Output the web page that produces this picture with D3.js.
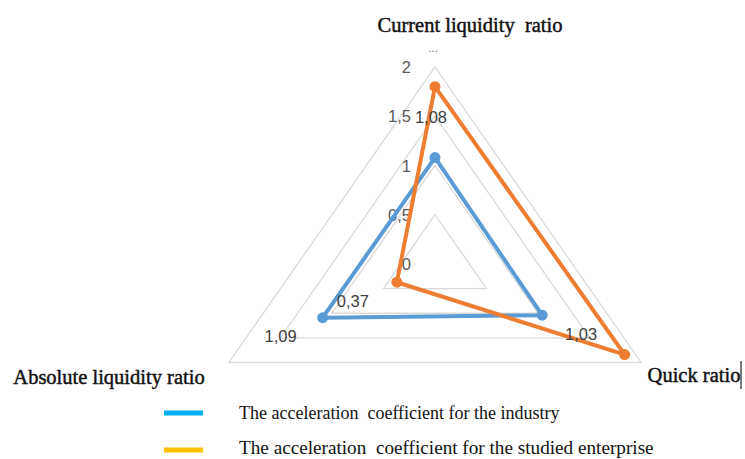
<!DOCTYPE html>
<html><head><meta charset="utf-8">
<script src="https://cdn.jsdelivr.net/npm/d3@7"></script>
<style>body{margin:0;background:#fff}svg{display:block}</style>
</head><body>
<svg id="c" width="745" height="459"></svg>
<script>
const categories = ["Current liquidity  ratio", "Quick ratio", "Absolute liquidity ratio"];
const seriesNames = ["The acceleration  coefficient for the industry", "The acceleration  coefficient for the studied enterprise"];
const industry = [1.08, 1.04, 1.09];
const enterprise = [1.80, 1.84, 0.37];
const ticks = [0, 0.5, 1, 1.5, 2];
const tickLabels = ["0", "0,5", "1", "1,5", "2"];
const dataLabels = [
  {series: 0, cat: 0, text: "1,08"},
  {series: 0, cat: 2, text: "1,09"},
  {series: 0, cat: 1, text: "1,03"},
  {series: 1, cat: 2, text: "0,37"}
];

const svg = d3.select("#c");
const cx = 435, cy = 264;
const rX = d3.scaleLinear().domain([0, 2]).range([0, 238]);
const rY = d3.scaleLinear().domain([0, 2]).range([0, 197]);
const angle = d3.scalePoint().domain(d3.range(categories.length)).range([0, 2 * Math.PI * (categories.length - 1) / categories.length]);
const pt = (i, v) => [cx + rX(v) * Math.sin(angle(i)), cy - rY(v) * Math.cos(angle(i))];

// grid
const grid = svg.append("g");
ticks.filter(t => t > 0).forEach(t => {
  grid.append("path")
    .attr("d", d3.line()(categories.map((c, i) => pt(i, t))) + "Z")
    .attr("fill", "none").attr("stroke", "#d9d9d9").attr("stroke-width", 1.3);
});

// tick labels
svg.append("g").selectAll("text").data(ticks).join("text")
  .attr("x", 411).attr("y", d => pt(0, d)[1] + 6)
  .attr("text-anchor", "end")
  .attr("font-family", "Liberation Sans, Arial, sans-serif").attr("font-size", 16.5)
  .attr("fill", "#595959")
  .text((d, i) => tickLabels[i]);
svg.append("text").attr("x", 433).attr("y", 52).attr("text-anchor", "middle")
  .attr("font-family", "Liberation Sans, Arial, sans-serif").attr("font-size", 12).attr("fill", "#7f7f7f").text("...");

// series
const colors = ["#5b9bd5", "#ed7d31"];
[industry, enterprise].forEach((vals, s) => {
  const pts = vals.map((v, i) => pt(i, v));
  svg.append("path").attr("d", d3.line()(pts) + "Z")
    .attr("fill", "none").attr("stroke", colors[s]).attr("stroke-width", 4).attr("stroke-linejoin", "round");
  svg.append("g").selectAll("circle").data(pts).join("circle")
    .attr("cx", d => d[0]).attr("cy", d => d[1]).attr("r", 5.5).attr("fill", colors[s]);
});

// data labels
const labelOffsets = {"0-0": [-4, -41], "0-2": [-42, 18], "0-1": [39, 19], "1-2": [-44, 19]};
svg.append("g").selectAll("text").data(dataLabels).join("text")
  .attr("x", d => pt(d.cat, [industry, enterprise][d.series][d.cat])[0] + labelOffsets[d.series + "-" + d.cat][0])
  .attr("y", d => pt(d.cat, [industry, enterprise][d.series][d.cat])[1] + labelOffsets[d.series + "-" + d.cat][1] + 6)
  .attr("text-anchor", "middle")
  .attr("font-family", "Liberation Sans, Arial, sans-serif").attr("font-size", 16.5)
  .attr("fill", "#404040")
  .text(d => d.text);

// category labels
const catPos = [[470, 32, "middle"], [694, 382, "middle"], [109, 384, "middle"]];
svg.append("g").selectAll("text").data(categories).join("text")
  .attr("x", (d, i) => catPos[i][0]).attr("y", (d, i) => catPos[i][1])
  .attr("text-anchor", (d, i) => catPos[i][2])
  .attr("font-family", "Liberation Serif, Times New Roman, serif").attr("font-size", 20.5)
  .attr("fill", "#111").attr("stroke", "#111").attr("stroke-width", 0.45)
  .attr("xml:space", "preserve")
  .text(d => d);
svg.append("line").attr("x1", 741).attr("x2", 741).attr("y1", 361).attr("y2", 389).attr("stroke", "#222").attr("stroke-width", 1.2);

// legend
const legColors = ["#00b0f0", "#ffc000"];
const legSizes = [18, 19.2];
const legY = [419, 454];
const leg = svg.append("g").selectAll("g").data(seriesNames).join("g")
  .attr("transform", (d, i) => `translate(0, ${413 + i * 37})`);
leg.append("line").attr("x1", 164).attr("x2", 203).attr("y1", 0).attr("y2", 0)
  .attr("stroke", (d, i) => legColors[i]).attr("stroke-width", 5);
svg.append("g").selectAll("text").data(seriesNames).join("text")
  .attr("x", 239).attr("y", (d, i) => legY[i])
  .attr("font-family", "Liberation Serif, Times New Roman, serif").attr("font-size", (d, i) => legSizes[i])
  .attr("fill", "#111").attr("xml:space", "preserve")
  .text(d => d);
</script>
</body></html>
